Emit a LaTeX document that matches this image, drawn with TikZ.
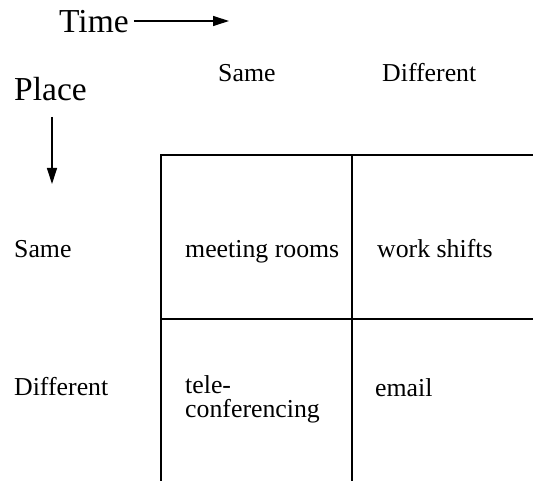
\documentclass[tikz,border=0pt]{standalone}
\usepackage{fontspec}
\setmainfont{Liberation Serif}
\usetikzlibrary{arrows.meta}
\begin{document}
\begin{tikzpicture}[x=1pt,y=-1pt,
  big/.style={font=\fontsize{33.5}{36}\selectfont, anchor=base west, inner sep=0pt},
  lbl/.style={font=\fontsize{25.8}{24}\selectfont, anchor=base west, inner sep=0pt, align=left},
  grid/.style={line width=1.3pt},
  axis/.style={line width=1.2pt, -{Triangle[length=16pt,width=10pt]}}]
\useasboundingbox (0,0) rectangle (533,481);
% axis titles
\node[big] (time) at (59,33) {Time};
\node[big] (place) at (14,101) {Place};
\coordinate (timeend) at (229,21);
\coordinate (placestart) at (52,117);
\coordinate (placeend) at (52,184);
\draw[axis] (time.east |- timeend) ++(5,0) coordinate (timestart) -- (timeend);
\draw[axis] (placestart) -- (placeend);
% column headers
\node[lbl] (csame) at (218,82) {Same};
\node[lbl] (cdiff) at (382,82) {Different};
% row headers
\node[lbl] (rsame) at (14,258) {Same};
\node[lbl] (rdiff) at (14,395) {Different};
% grid
\coordinate (tl) at (161,155);
\coordinate (tm) at (352,155);
\coordinate (tr) at (533,155);
\coordinate (ml) at (161,319);
\coordinate (mr) at (533,319);
\coordinate (bl) at (161,481);
\coordinate (bm) at (352,481);
\draw[grid] (tr) -- (tl) -- (bl);
\draw[grid] (tm) -- (bm);
\draw[grid] (ml) -- (mr);
% cells
\node[lbl] (c11) at (185,258) {meeting rooms};
\node[lbl] (c12) at (377,258) {work shifts};
\node[lbl, anchor=north west] (c21) at (185,375.5) {tele-\\conferencing};
\node[lbl] (c22) at (375,396) {email};
\end{tikzpicture}
\end{document}
